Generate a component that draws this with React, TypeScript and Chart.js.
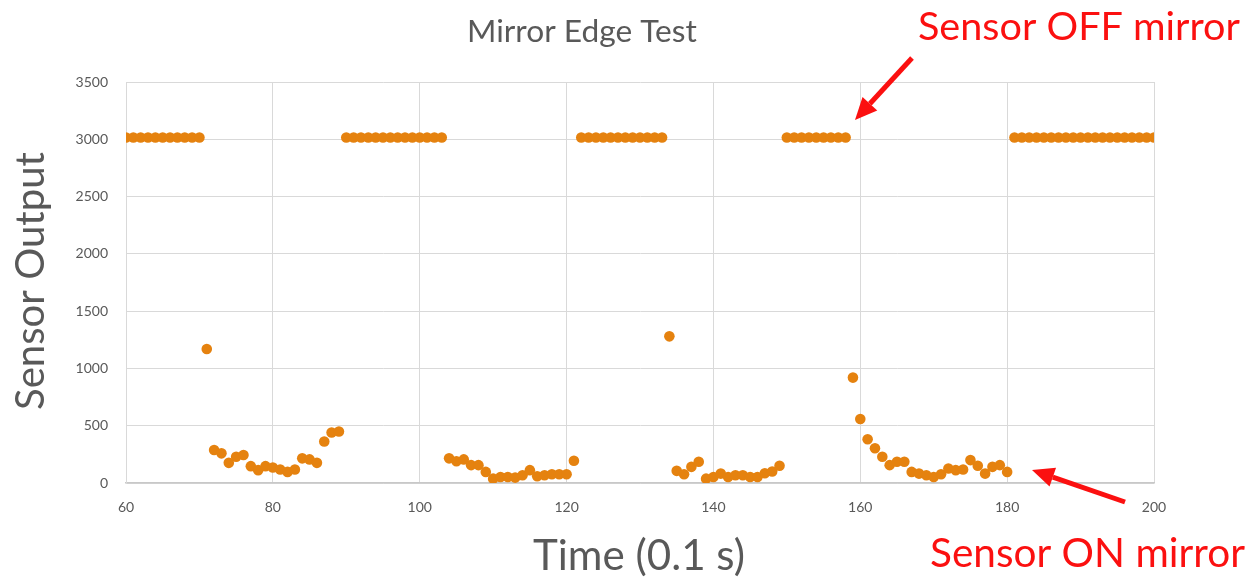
import React, { useEffect, useRef } from "react";
import { Chart, registerables } from "chart.js";

Chart.register(...registerables);

const TITLE = "Mirror Edge Test";
const X_TITLE = "Time (0.1 s)";
const Y_TITLE = "Sensor Output";
const NOTE_OFF = "Sensor OFF mirror";
const NOTE_ON = "Sensor ON mirror";

const timeValues: number[] = [
  60, 61, 62, 63, 64, 65, 66, 67, 68, 69, 70,
  71, 72, 73, 74, 75, 76, 77, 78, 79, 80, 81, 82, 83, 84, 85, 86, 87, 88, 89,
  90, 91, 92, 93, 94, 95, 96, 97, 98, 99, 100, 101, 102, 103,
  104, 105, 106, 107, 108, 109, 110, 111, 112, 113, 114, 115, 116, 117, 118, 119, 120, 121,
  122, 123, 124, 125, 126, 127, 128, 129, 130, 131, 132, 133,
  134, 135, 136, 137, 138, 139, 140, 141, 142, 143, 144, 145, 146, 147, 148, 149,
  150, 151, 152, 153, 154, 155, 156, 157, 158,
  159, 160, 161, 162, 163, 164, 165, 166, 167, 168, 169, 170, 171, 172, 173, 174, 175, 176, 177, 178, 179, 180,
  181, 182, 183, 184, 185, 186, 187, 188, 189, 190, 191, 192, 193, 194, 195, 196, 197, 198, 199, 200,
];

const sensorValues: number[] = [
  3015, 3015, 3015, 3015, 3015, 3015, 3015, 3015, 3015, 3015, 3015,
  1170, 288, 259, 176, 229, 244, 147, 112, 147, 135, 118, 97, 118, 215, 206, 176, 362, 441, 450,
  3015, 3015, 3015, 3015, 3015, 3015, 3015, 3015, 3015, 3015, 3015, 3015, 3015, 3015,
  215, 190, 206, 156, 156, 97, 38, 53, 53, 47, 68, 112, 59, 68, 76, 76, 76, 194,
  3015, 3015, 3015, 3015, 3015, 3015, 3015, 3015, 3015, 3015, 3015, 3015,
  1280, 106, 76, 141, 185, 38, 53, 82, 53, 68, 68, 53, 53, 85, 100, 150,
  3015, 3015, 3015, 3015, 3015, 3015, 3015, 3015, 3015,
  920, 559, 382, 303, 229, 156, 185, 185, 97, 82, 68, 53, 76, 126, 112, 118, 200, 150, 82, 141, 156, 97,
  3015, 3015, 3015, 3015, 3015, 3015, 3015, 3015, 3015, 3015, 3015, 3015, 3015, 3015, 3015, 3015, 3015, 3015, 3015, 3015,
];

const FONT = "Lato, 'Open Sans', sans-serif";
const GRAY = "#595959";
const RED = "#fb1010";
const ORANGE = "#e5820f";

function fitText(
  ctx: CanvasRenderingContext2D,
  text: string,
  width: number,
  weight: string
) {
  let size = 40;
  ctx.font = `${weight} ${size}px ${FONT}`;
  const w = ctx.measureText(text).width;
  size = (size * width) / w;
  ctx.font = `${weight} ${size}px ${FONT}`;
  return size;
}

function arrow(
  ctx: CanvasRenderingContext2D,
  x1: number,
  y1: number,
  x2: number,
  y2: number
) {
  const ang = Math.atan2(y2 - y1, x2 - x1);
  const headLen = 22;
  const headW = 10;
  const bx = x2 - headLen * Math.cos(ang);
  const by = y2 - headLen * Math.sin(ang);
  ctx.save();
  ctx.strokeStyle = RED;
  ctx.fillStyle = RED;
  ctx.lineWidth = 5;
  ctx.beginPath();
  ctx.moveTo(x1, y1);
  ctx.lineTo(bx, by);
  ctx.stroke();
  ctx.beginPath();
  ctx.moveTo(x2, y2);
  ctx.lineTo(bx + headW * Math.sin(ang), by - headW * Math.cos(ang));
  ctx.lineTo(bx - headW * Math.sin(ang), by + headW * Math.cos(ang));
  ctx.closePath();
  ctx.fill();
  ctx.restore();
}

const textPlugin = {
  id: "texts",
  afterDraw(chart: any) {
    const ctx: CanvasRenderingContext2D = chart.ctx;
    ctx.save();
    ctx.textBaseline = "alphabetic";
    ctx.textAlign = "left";

    // Title
    ctx.fillStyle = GRAY;
    fitText(ctx, TITLE, 230, "400");
    ctx.fillText(TITLE, 467, 42);

    // X title
    fitText(ctx, X_TITLE, 212, "400");
    ctx.fillText(X_TITLE, 533, 570);

    // Y title
    ctx.save();
    ctx.translate(44, 410);
    ctx.rotate(-Math.PI / 2);
    fitText(ctx, Y_TITLE, 258, "400");
    ctx.fillText(Y_TITLE, 0, 0);
    ctx.restore();

    // Red annotations
    ctx.fillStyle = RED;
    fitText(ctx, NOTE_OFF, 322, "400");
    ctx.fillText(NOTE_OFF, 918, 40);
    fitText(ctx, NOTE_ON, 315, "400");
    ctx.fillText(NOTE_ON, 930, 567);

    arrow(ctx, 912, 58, 855, 120);
    arrow(ctx, 1125, 502, 1032, 470);
    ctx.restore();
  },
};

export default function App() {
  const ref = useRef<HTMLCanvasElement | null>(null);

  useEffect(() => {
    if (!ref.current) return;
    const points = timeValues.map((t, i) => ({ x: t, y: sensorValues[i] }));
    const chart = new Chart(ref.current, {
      type: "scatter",
      data: {
        datasets: [
          {
            label: "Sensor Output",
            data: points,
            backgroundColor: ORANGE,
            borderColor: ORANGE,
            pointRadius: 5.3,
            pointBorderWidth: 0,
          },
        ],
      },
      options: {
        responsive: false,
        animation: false,
        layout: { padding: { top: 82, right: 101, bottom: 0, left: 0 } },
        plugins: {
          legend: { display: false },
          tooltip: { enabled: false },
          title: { display: false },
        },
        scales: {
          x: {
            type: "linear",
            min: 60,
            max: 200,
            afterFit: (s: any) => {
              s.height = 96;
            },
            ticks: {
              stepSize: 20,
              padding: 16,
              color: GRAY,
              font: { family: FONT, size: 14 },
              callback: (v: any) => String(v),
            },
            grid: { color: "#d9d9d9", drawTicks: false, lineWidth: 1 },
            border: { color: "#c8c8c8", width: 1.5 },
          },
          y: {
            min: 0,
            max: 3500,
            afterFit: (s: any) => {
              s.width = 126;
            },
            ticks: {
              stepSize: 500,
              padding: 18,
              color: GRAY,
              font: { family: FONT, size: 14 },
              callback: (v: any) => String(v),
            },
            grid: { color: "#d9d9d9", drawTicks: false, lineWidth: 1 },
            border: { color: "#d9d9d9" },
          },
        },
      },
      plugins: [textPlugin],
    });
    return () => chart.destroy();
  }, []);

  return (
    <div
      style={{
        position: "absolute",
        left: 0,
        top: 0,
        width: 1255,
        height: 579,
        background: "#ffffff",
      }}
    >
      <canvas ref={ref} width={1255} height={579} />
    </div>
  );
}
